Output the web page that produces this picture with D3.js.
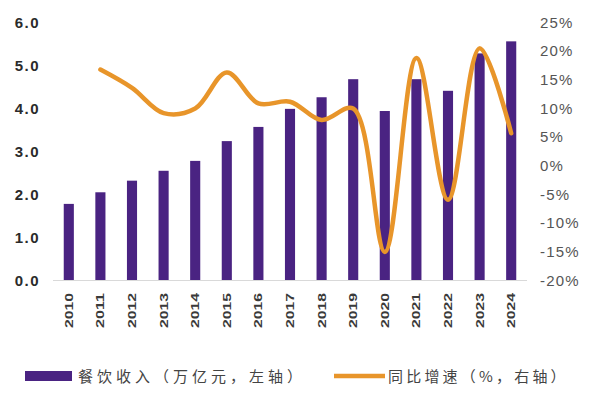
<!DOCTYPE html>
<html>
<head>
<meta charset="utf-8">
<script src="https://cdn.jsdelivr.net/npm/d3@7"></script>
<style>
  body { margin: 0; background: #fff; }
  svg { display: block; }
</style>
</head>
<body>
<svg id="chart" width="594" height="396"></svg>
<script>
  'use strict';

  var years = ['2010', '2011', '2012', '2013', '2014', '2015', '2016', '2017',
    '2018', '2019', '2020', '2021', '2022', '2023', '2024'];
  // 餐饮收入, 万亿元
  var revenue = [1.77, 2.04, 2.31, 2.54, 2.77, 3.23, 3.56, 3.98, 4.25, 4.67,
    3.93, 4.67, 4.40, 5.27, 5.55];
  // 同比增速, %  (no value for 2010)
  var growth = [null, 16.7, 13.5, 9.1, 9.9, 16.2, 10.8, 11.1, 7.9, 9.9,
    -15.1, 18.7, -6.0, 20.4, 5.6];
  var leftTicks = [0, 1, 2, 3, 4, 5, 6];
  var rightTicks = [-20, -15, -10, -5, 0, 5, 10, 15, 20, 25];
  var legendLabels = ['餐饮收入（万亿元，左轴）', '同比增速（%，右轴）'];

  var colors = { bar: '#4a2382', line: '#e8952a', axis: '#d9d9d9' };

  var svg = d3.select('#chart');
  var margin = { left: 53, right: 67, top: 22, bottom: 116 };
  var width = 594 - margin.left - margin.right;
  var height = 396 - margin.top - margin.bottom;

  var g = svg.append('g')
    .attr('transform', 'translate(' + margin.left + ',' + margin.top + ')');

  var x = d3.scaleBand().domain(years).range([0, width]).paddingInner(0.68).paddingOuter(0.34);
  var yL = d3.scaleLinear().domain([0, 6]).range([height, 0]);
  var yR = d3.scaleLinear().domain([-20, 25]).range([height, 0]);

  // left axis labels
  g.append('g').selectAll('text')
    .data(leftTicks)
    .enter().append('text')
    .attr('x', -13)
    .attr('y', function(d) { return yL(d) + 5.5; })
    .attr('text-anchor', 'end')
    .style('font', 'bold 15px "Liberation Sans", Arial, sans-serif')
    .style('letter-spacing', '1.5px')
    .style('fill', '#2b2b2b')
    .text(function(d) { return d.toFixed(1); });

  // right axis labels
  g.append('g').selectAll('text')
    .data(rightTicks)
    .enter().append('text')
    .attr('x', width + 13)
    .attr('y', function(d) { return yR(d) + 5.5; })
    .attr('text-anchor', 'start')
    .style('font', '15px "Liberation Sans", Arial, sans-serif')
    .style('letter-spacing', '1.2px')
    .style('fill', '#555')
    .text(function(d) { return d + '%'; });

  // bars
  g.append('g').selectAll('rect')
    .data(revenue)
    .enter().append('rect')
    .attr('x', function(d, i) { return x(years[i]); })
    .attr('width', x.bandwidth())
    .attr('y', function(d) { return yL(d); })
    .attr('height', function(d) { return height - yL(d); })
    .style('fill', colors.bar);

  // baseline
  g.append('line')
    .attr('x1', 0).attr('x2', width)
    .attr('y1', height + 0.5).attr('y2', height + 0.5)
    .style('stroke', colors.axis)
    .style('stroke-width', 1);

  // x labels, rotated
  g.append('g').selectAll('text')
    .data(years)
    .enter().append('text')
    .attr('transform', function(d) {
      return 'translate(' + (x(d) + x.bandwidth() / 2 + 4) + ',' + (height + 13) + ') rotate(-90)';
    })
    .attr('text-anchor', 'end')
    .attr('textLength', 35)
    .attr('lengthAdjust', 'spacingAndGlyphs')
    .style('font', 'bold 11px "Liberation Sans", Arial, sans-serif')
    .style('fill', '#3a3a3a')
    .text(function(d) { return d; });

  // growth line
  var pts = growth.map(function(v, i) { return { year: years[i], v: v }; })
    .filter(function(p) { return p.v !== null; });

  var line = d3.line()
    .x(function(p) { return x(p.year) + x.bandwidth() / 2; })
    .y(function(p) { return yR(p.v); })
    .curve(d3.curveCatmullRom.alpha(0.5));

  g.append('path')
    .datum(pts)
    .attr('d', line)
    .style('fill', 'none')
    .style('stroke', colors.line)
    .style('stroke-width', 4.5)
    .style('stroke-linecap', 'round')
    .style('stroke-linejoin', 'round');

  // legend
  var lg = svg.append('g');
  lg.append('rect')
    .attr('x', 25).attr('y', 371).attr('width', 47).attr('height', 10)
    .style('fill', colors.bar);
  lg.append('text')
    .attr('x', 78).attr('y', 382)
    .style('font', '15px "Noto Sans CJK SC", sans-serif')
    .style('letter-spacing', '4px')
    .style('fill', '#444')
    .text(legendLabels[0]);
  lg.append('line')
    .attr('x1', 334).attr('x2', 385).attr('y1', 376).attr('y2', 376)
    .style('stroke', colors.line)
    .style('stroke-width', 4.5);
  lg.append('text')
    .attr('x', 388).attr('y', 382)
    .style('font', '15px "Noto Sans CJK SC", sans-serif')
    .style('letter-spacing', '3.2px')
    .style('fill', '#444')
    .text(legendLabels[1]);
</script>
</body>
</html>
